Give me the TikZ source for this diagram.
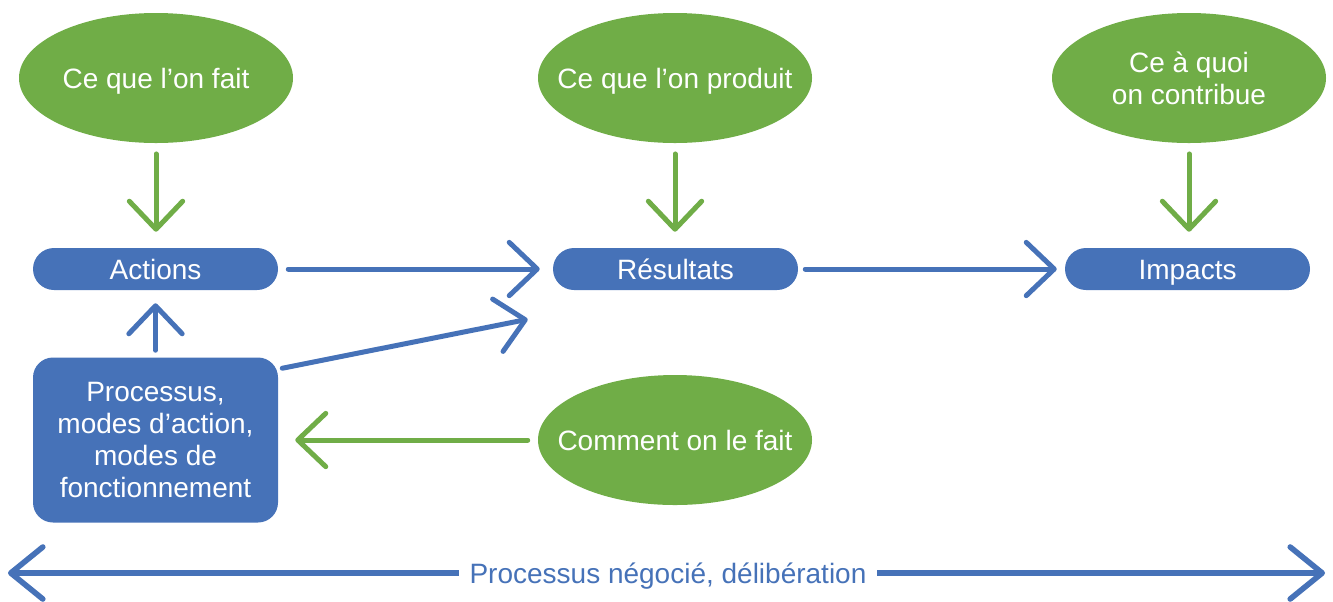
\documentclass[tikz,border=0pt]{standalone}
\usepackage{fontspec}
\setmainfont{Liberation Sans}
\usetikzlibrary{shapes.geometric,arrows.meta}
\definecolor{cblue}{RGB}{70,114,184}
\definecolor{cgreen}{RGB}{112,173,71}
\newcommand{\zerow}[1]{\makebox[0pt]{#1}}
\tikzset{
  txt/.style={font=\fontsize{21pt}{24pt}\selectfont, text=white, align=center},
  capc/.style={text height=15pt, text depth=0pt},
  oval/.style={txt, ellipse, fill=cgreen, inner sep=0pt, minimum width=205.5pt, minimum height=97.5pt},
  pill/.style={txt, capc, rectangle, fill=cblue, rounded corners=15.75pt, inner sep=0pt, minimum width=183.75pt, minimum height=31.5pt},
  procbox/.style={txt, rectangle, fill=cblue, rounded corners=15pt, inner sep=0pt, minimum width=183.75pt, minimum height=123.75pt},
  conn/.style={line width=3.75pt, line cap=round, line join=round, -{Straight Barb[round, length=21pt, width=40pt]}},
  bconn/.style={conn, draw=cblue},
  gconn/.style={conn, draw=cgreen},
}
\begin{document}
\begin{tikzpicture}[x=0.75pt, y=-0.75pt]
\useasboundingbox (0,0) rectangle (1333,601);
% ellipses
\node[oval, capc] (e1) at (156,78) {\zerow{Ce que l’on fait}};
\node[oval, capc] (e2) at (675,78) {\zerow{Ce que l’on produit}};
\node[oval, text height=10pt, text depth=10pt] (e3) at (1189,78) {\zerow{\raisebox{-8.5pt}{\begin{tabular}{@{}c@{}}Ce à quoi\\on contribue\end{tabular}}}};
\node[oval, capc] (e4) at (675,440) {\zerow{Comment on le fait}};
% blue boxes
\node[pill] (act) at (155.5,269) {Actions};
\node[pill] (res) at (675.5,269) {Résultats};
\node[pill] (imp) at (1187.5,269) {Impacts};
\node[procbox] (proc) at (155.5,440) {Processus,\\modes d’action,\\modes de\\fonctionnement};
% green down arrows
\draw[gconn, shorten <=8pt, shorten >=12pt] (e1.south) -- (act.north -| e1.south);
\draw[gconn, shorten <=8pt, shorten >=12pt] (e2.south) -- (res.north -| e2.south);
\draw[gconn, shorten <=8pt, shorten >=12pt] (e3.south) -- (imp.north -| e3.south);
% horizontal blue arrows
\draw[bconn, shorten <=7.5pt, shorten >=9.75pt] (act.east) -- (res.west);
\draw[bconn, shorten <=5.25pt, shorten >=6pt] (res.east) -- (imp.west);
% up arrow
\draw[bconn, shorten <=5.25pt, shorten >=9.75pt] (proc.north) -- (act.south);
% diagonal
\draw[bconn] ([shift={(4,11)}]proc.north east) -- ([shift={(-25,29)}]res.south west);
% green from comment
\draw[gconn, shorten <=7.5pt, shorten >=12.75pt] (e4.west) -- (proc.east |- e4.west);
% bottom double arrow
\node[font=\fontsize{21pt}{24pt}\selectfont, text=cblue, capc, inner xsep=8pt, inner ysep=0pt] (neg) at (668,573) {Processus négocié, délibération};
\coordinate (bl) at (8,573);
\coordinate (br) at (1325,573);
\draw[line width=4.2pt, line cap=butt, line join=round, draw=cblue, -{Straight Barb[round, length=24pt, width=39pt]}] (neg.west) -- (bl);
\draw[line width=4.2pt, line cap=butt, line join=round, draw=cblue, -{Straight Barb[round, length=24pt, width=39pt]}] (neg.east) -- (br);
\end{tikzpicture}
\end{document}
